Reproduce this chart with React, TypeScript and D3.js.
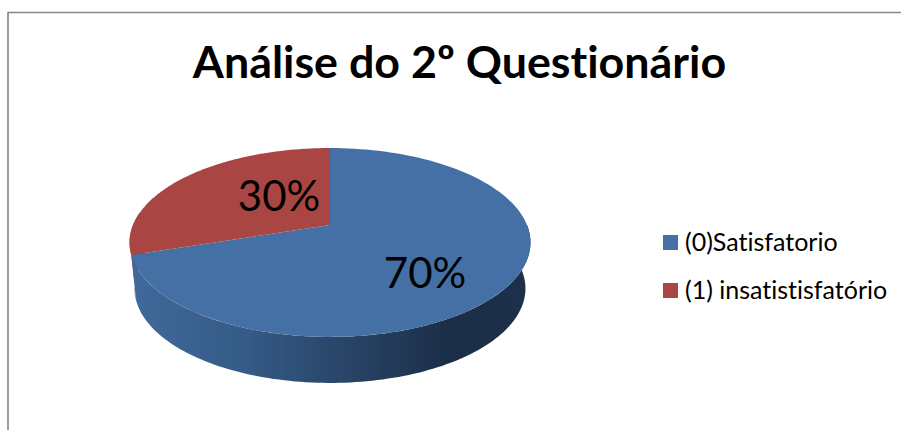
import React, { useEffect, useRef } from 'react';
import * as d3 from 'd3';

const title = 'Análise do 2º Questionário';
const categories = ['(0)Satisfatorio', '(1) insatistisfatório'];
const shares = [70, 30];
const sliceColors = ['#4570a6', '#a94643'];

const W = 901;
const H = 430;

// perspective view of the round pie: near edge looks bigger than far edge
const center = { x: 330, y: 225 };
const radiusX = 197;
const radiusY = 91.2;
const tilt = 0.185;
const depth = 46;
const bottomScale = 0.975;

const project = (a: number, drop = 0, s = 1) => {
  const u = Math.sin(a);
  const v = Math.cos(a);
  const w = 1 + tilt * v;
  return [center.x + (s * radiusX * u) / w, center.y - (radiusY * v) / w + drop] as [number, number];
};

const App = () => {
  const ref = useRef<SVGSVGElement>(null);

  useEffect(() => {
    const svg = d3.select(ref.current);
    svg.selectAll('*').remove();

    const defs = svg.append('defs');
    const grad = defs
      .append('linearGradient')
      .attr('id', 'wall')
      .attr('gradientUnits', 'userSpaceOnUse')
      .attr('x1', 131)
      .attr('x2', 529)
      .attr('y1', 0)
      .attr('y2', 0);
    [
      [0, '#41699b'],
      [0.3, '#345a85'],
      [0.6, '#263f60'],
      [0.8, '#1b2e48'],
      [1, '#1c3049'],
    ].forEach(([o, c]) => grad.append('stop').attr('offset', o as number).attr('stop-color', c as string));

    // frame, only top and left edges show
    const frame = d3.path();
    frame.moveTo(W, 12.5);
    frame.lineTo(8, 12.5);
    frame.lineTo(8, H);
    svg.append('path').attr('d', frame.toString()).attr('fill', 'none').attr('stroke', '#868686').attr('stroke-width', 1.6);

    svg
      .append('text')
      .attr('x', 459.5)
      .attr('y', 78)
      .attr('text-anchor', 'middle')
      .attr('font-family', 'Lato, sans-serif')
      .attr('font-weight', 700)
      .attr('font-size', 44.8)
      .style('font-variant-ligatures', 'none')
      .attr('fill', '#000')
      .text(title);

    const pie = d3.pie<number>().sort(null);
    const slices = pie(shares);
    const line = d3.line();
    const steps = (a: number, b: number) => d3.range(0, 121).map((i) => a + ((b - a) * i) / 120);

    // side wall: blue band along the near rim, red sliver on the far left
    const rimBoundary = slices[1].startAngle;
    const wall = (a: number, b: number) => {
      const rim = steps(a, b);
      return line([...rim.map((t) => project(t)), ...rim.reverse().map((t) => project(t, depth, bottomScale))]);
    };
    svg.append('path').attr('d', wall(rimBoundary, (3 * Math.PI) / 2 + 0.14)).attr('fill', '#8f3b39');
    svg.append('path').attr('d', wall(Math.PI / 2, rimBoundary)).attr('fill', 'url(#wall)');

    const topFace = (a: number, b: number) =>
      line([[center.x, center.y], ...steps(a, b).map((t) => project(t))]) + 'Z';
    slices.forEach((s, i) => {
      svg.append('path').attr('d', topFace(s.startAngle, s.endAngle)).attr('fill', sliceColors[i]);
    });

    const labelPos = [
      [425, 288],
      [279, 211],
    ];
    slices.forEach((s, i) => {
      svg
        .append('text')
        .attr('x', labelPos[i][0])
        .attr('y', labelPos[i][1])
        .attr('text-anchor', 'middle')
        .attr('font-family', 'Lato, sans-serif')
        .attr('font-size', 42)
        .attr('fill', '#000')
        .text(`${s.data}%`);
    });

    const legendY = d3.scalePoint<string>().domain(categories).range([242.5, 290.5]);
    categories.forEach((c, i) => {
      const y = legendY(c) as number;
      svg.append('rect').attr('x', 663).attr('y', y - 7.5).attr('width', 15).attr('height', 15).attr('fill', sliceColors[i]);
      svg
        .append('text')
        .attr('x', 685)
        .attr('y', y + 8)
        .attr('font-family', 'Lato, sans-serif')
        .attr('font-size', 25)
        .style('font-variant-ligatures', 'none')
        .attr('fill', '#000')
        .text(c);
    });
  }, []);

  return <svg ref={ref} width={W} height={H} style={{ position: 'absolute', left: 0, top: 0, background: '#fff' }} />;
};

export default App;
